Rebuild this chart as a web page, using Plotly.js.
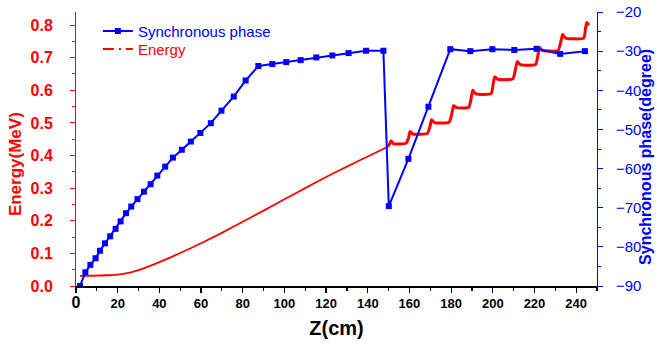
<!DOCTYPE html>
<html>
<head>
<meta charset="utf-8">
<script src="https://cdn.plot.ly/plotly-3.0.1.min.js"></script>
<style>
  html, body { margin: 0; padding: 0; background: #fff; }
  #chart { width: 657px; height: 346px; }
</style>
</head>
<body>
<div id="chart"></div>
<script>
// Synchronous phase along the structure (cell positions, degrees)
const phaseZ = [1.9, 4.5, 6.9, 9.4, 11.5, 13.9, 16.4, 19.0, 21.4, 24.0, 26.5, 29.5, 32.6, 35.8, 39.0,
  42.8, 46.5, 50.8, 55.1, 59.7, 64.7, 69.8, 75.7, 81.4, 87.5, 94.2, 100.9, 107.8, 115.3, 123.0,
  130.8, 139.2, 147.5, 150.1, 159.5, 169.1, 179.6, 189.2, 199.8, 210.3, 221.0, 232.3, 244.2];
const phaseDeg = [-90, -86.5, -84.6, -82.9, -81.0, -79.1, -77.3, -75.4, -73.5, -71.4, -69.7, -67.8, -65.9, -64.0, -61.8,
  -59.5, -57.2, -55.2, -53.1, -50.9, -48.4, -45.2, -41.6, -37.5, -33.8, -33.3, -32.8, -32.3, -31.6, -31.1,
  -30.5, -29.9, -29.9, -69.6, -57.5, -44.2, -29.5, -30.0, -29.5, -29.7, -29.4, -30.7, -30.0];

// Beam energy along the structure (MeV)
const energyZ = [1.9, 5, 10, 15, 20, 25, 30, 35, 40, 50, 60, 70, 80, 90, 100, 110, 120, 130, 140, 149.6,
  150.6, 151.2, 152.4, 158.4, 159.6, 160.3, 161.6, 168.6, 169.9, 170.6, 172.0, 179.0, 180.4, 181.2, 182.6,
  188.5, 189.6, 190.4, 191.9, 199.2, 200.2, 200.9, 202.4, 209.6, 210.9, 211.7, 213.1, 220.5, 221.6, 222.4,
  223.9, 231.3, 232.6, 233.5, 234.9, 243.6, 244.5, 245.1, 246.2];
const energyMeV = [0.031, 0.031, 0.032, 0.033, 0.035, 0.040, 0.049, 0.060, 0.073, 0.101, 0.131, 0.163, 0.197, 0.231, 0.266, 0.300, 0.334, 0.366, 0.397, 0.427,
  0.438, 0.445, 0.436, 0.438, 0.455, 0.474, 0.466, 0.468, 0.490, 0.510, 0.501, 0.502, 0.530, 0.553, 0.547,
  0.548, 0.575, 0.600, 0.589, 0.590, 0.620, 0.641, 0.634, 0.635, 0.665, 0.688, 0.679, 0.679, 0.705, 0.731,
  0.722, 0.722, 0.748, 0.771, 0.760, 0.760, 0.790, 0.808, 0.800];

const xTicks = [0, 20, 40, 60, 80, 100, 120, 140, 160, 180, 200, 220, 240];
const xTickText = xTicks.map(v => v === 0 ? '<span style="font-size:16px">0</span>' : String(v));

const FONT = 'Liberation Sans, Arial, sans-serif';
const RED = '#ff0000';
const BLUE = '#0000ff';

// The smooth drift section is drawn thinner than the stepped gap section
const split = energyZ.indexOf(149.6);

const traces = [
  {
    x: phaseZ, y: phaseDeg, yaxis: 'y2', type: 'scatter', mode: 'lines+markers',
    name: 'Synchronous phase', legend: 'legend',
    line: { color: BLUE, width: 2 },
    marker: { symbol: 'square', size: 6, color: BLUE }
  },
  {
    x: [null], y: [null], type: 'scatter', mode: 'lines',
    name: 'Energy', legend: 'legend2',
    line: { color: RED, width: 2, dash: '11px,5px,2px,5px,12px' }
  },
  {
    x: energyZ.slice(0, split + 1), y: energyMeV.slice(0, split + 1), type: 'scatter', mode: 'lines',
    showlegend: false, line: { color: RED, width: 1.8, shape: 'spline', smoothing: 0.6 }
  },
  {
    x: energyZ.slice(split), y: energyMeV.slice(split), type: 'scatter', mode: 'lines',
    showlegend: false, line: { color: RED, width: 3, shape: 'spline', smoothing: 0.5 }
  }
];

const legendBase = {
  x: 0.042, xanchor: 'left', yanchor: 'middle',
  bgcolor: 'rgba(0,0,0,0)', itemwidth: 30, tracegroupgap: 0
};

const layout = {
  width: 657, height: 346,
  margin: { l: 76, r: 60, t: 12, b: 60 },
  paper_bgcolor: '#fff', plot_bgcolor: '#fff',
  font: { family: FONT },
  showlegend: true,
  legend: Object.assign({}, legendBase, { y: 0.93, font: { family: FONT, size: 15, color: BLUE } }),
  legend2: Object.assign({}, legendBase, { y: 0.864, font: { family: FONT, size: 15, color: RED } }),
  xaxis: {
    range: [0, 250], tickvals: xTicks, ticktext: xTickText,
    showgrid: false, zeroline: false,
    showline: true, linecolor: '#000', linewidth: 1.5,
    ticks: 'outside', ticklen: 5, tickwidth: 1.2, tickcolor: '#000',
    minor: { dtick: 10, tick0: 0, ticks: 'outside', ticklen: 3, tickcolor: '#000' },
    tickfont: { family: FONT, size: 13, weight: 'bold', color: '#000' },
    title: { text: 'Z(cm)', font: { family: FONT, size: 20, weight: 'bold', color: '#000' }, standoff: 11 }
  },
  xaxis2: {
    overlaying: 'x', side: 'top', range: [0, 250], dtick: 10, tick0: 0,
    showgrid: false, zeroline: false, showticklabels: false,
    showline: true, linecolor: '#000', linewidth: 1.5,
    ticks: 'inside', ticklen: 4, tickwidth: 1.2, tickcolor: '#000'
  },
  yaxis: {
    range: [0, 0.84], dtick: 0.1, tick0: 0, tickformat: '.1f',
    showgrid: false, zeroline: false,
    showline: true, linecolor: RED, linewidth: 1,
    ticks: 'outside', ticklen: 5, tickwidth: 1, tickcolor: RED,
    minor: { dtick: 0.05, tick0: 0, ticks: 'outside', ticklen: 3, tickcolor: RED },
    ticklabelstandoff: 14,
    tickfont: { family: FONT, size: 16, weight: 'bold', color: RED }
  },
  yaxis2: {
    overlaying: 'y', side: 'right', range: [-90, -20], dtick: 10, tick0: -90,
    showgrid: false, zeroline: false,
    showline: true, linecolor: BLUE, linewidth: 1,
    ticks: 'outside', ticklen: 5, tickwidth: 1, tickcolor: BLUE,
    minor: { dtick: 5, ticks: 'outside', ticklen: 3, tickcolor: BLUE },
    ticklabelstandoff: 10,
    tickfont: { family: FONT, size: 15, color: BLUE }
  },
  annotations: [
    {
      text: 'Energy(MeV)', xref: 'paper', yref: 'paper', x: -0.117, y: 0.445,
      xanchor: 'center', yanchor: 'middle', textangle: -90, showarrow: false,
      font: { family: FONT, size: 17, weight: 'bold', color: RED }
    },
    {
      text: 'Synchronous phase(degree)', xref: 'paper', yref: 'paper', x: 1.094, y: 0.471,
      xanchor: 'center', yanchor: 'middle', textangle: -90, showarrow: false,
      font: { family: FONT, size: 16, weight: 'bold', color: BLUE }
    }
  ]
};

Plotly.newPlot('chart', traces, layout, { staticPlot: true, displayModeBar: false });
</script>
</body>
</html>
